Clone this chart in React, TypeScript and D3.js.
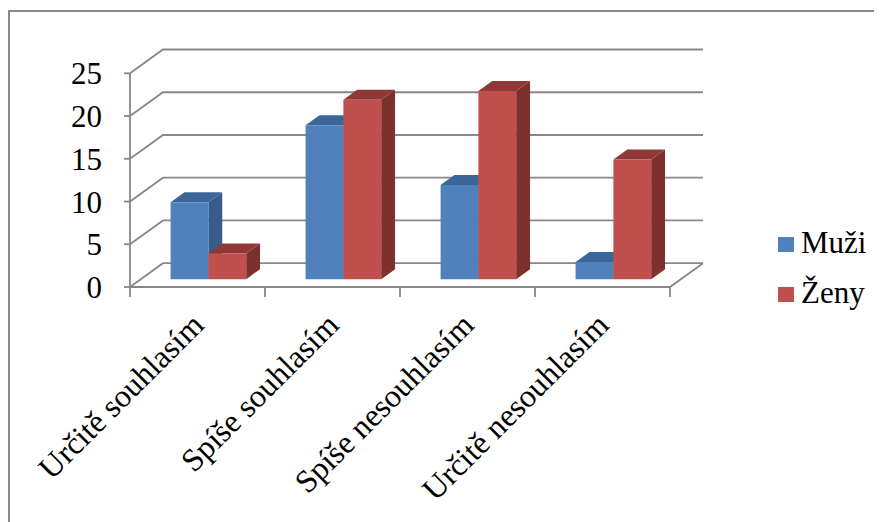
import React, { useEffect, useRef } from "react";
import * as d3 from "d3";

const categories = ["Určitě souhlasím", "Spíše souhlasím", "Spíše nesouhlasím", "Určitě nesouhlasím"];
const seriesNames = ["Muži", "Ženy"];
const muzi = [9, 18, 11, 2];
const zeny = [3, 21, 22, 14];
const yTicks = [0, 5, 10, 15, 20, 25];

const W = 882, H = 522;
const FONT = "'Liberation Serif', 'Times New Roman', Tinos, serif";

const x0 = 130, x1 = 670;
const yBase = 287;
const plotH = 213.7;
const DX = 33, DY = -23.8;
const d0 = 0.33, d1 = 0.75;
const gridColor = "#878787";

const faces = {
  front: ["#4F81BD", "#C0504D"],
  side: ["#385D8A", "#7D302E"],
  top: ["#3D6698", "#8F3836"],
};

export default function App() {
  const ref = useRef<SVGSVGElement | null>(null);

  useEffect(() => {
    const svg = d3.select(ref.current);
    svg.selectAll("*").remove();
    const root = svg.append("g").attr("transform", "translate(-8,-8)");

    const xBand = d3.scaleBand<string>().domain(categories).range([x0, x1]).paddingInner(0).paddingOuter(0);
    const yScale = d3.scaleLinear().domain([0, 25]).range([0, plotH]);
    const values = [muzi, zeny];
    const proj = (x: number, h: number, d: number): [number, number] => [x + d * DX, yBase - h + d * DY];
    const poly = (pts: [number, number][]) => pts.map((p) => p.join(",")).join(" ");

    root.append("rect").attr("x", 0).attr("y", 0).attr("width", W).attr("height", H).attr("fill", "#fff");
    root.append("polyline").attr("points", `9,${H + 5} 9,11 ${W + 5},11`).attr("fill", "none").attr("stroke", "#888").attr("stroke-width", 2);

    const grid = root.append("g").attr("fill", "none").attr("stroke", gridColor).attr("stroke-width", 1.8);
    yTicks.forEach((t) => {
      const h = yScale(t);
      grid.append("polyline").attr("points", poly([proj(x0, h, 0), proj(x0, h, 1), proj(x1, h, 1)]));
      grid.append("line").attr("x1", x0 - 6).attr("x2", x0).attr("y1", yBase - h).attr("y2", yBase - h);
    });
    grid.append("polyline").attr("points", poly([proj(x0, 0, 0), proj(x1, 0, 0), proj(x1, 0, 1)]));
    grid.append("line").attr("x1", x0).attr("x2", x0).attr("y1", yBase - yScale(25)).attr("y2", yBase);
    const catTicks = [...categories.map((c) => xBand(c) as number), x1];
    catTicks.forEach((x) => {
      grid.append("line").attr("x1", x).attr("x2", x).attr("y1", yBase).attr("y2", yBase + 10);
    });

    const barW = xBand.bandwidth() * 0.28;
    categories.forEach((c, i) => {
      const cx = (xBand(c) as number) + xBand.bandwidth() / 2;
      values.forEach((vals, s) => {
        const left = cx - barW + s * barW;
        const right = left + barW;
        const h = yScale(vals[i]);
        const g = root.append("g");
        g.append("polygon").attr("points", poly([proj(right, 0, d0), proj(right, 0, d1), proj(right, h, d1), proj(right, h, d0)])).attr("fill", faces.side[s]);
        g.append("polygon").attr("points", poly([proj(left, h, d0), proj(right, h, d0), proj(right, h, d1), proj(left, h, d1)])).attr("fill", faces.top[s]);
        g.append("polygon").attr("points", poly([proj(left, 0, d0), proj(right, 0, d0), proj(right, h, d0), proj(left, h, d0)])).attr("fill", faces.front[s]);
      });
    });

    const setFont = (sel: any, size: number) =>
      sel
        .attr("font-family", FONT)
        .attr("font-size", size)
        .style("font-family", FONT, "important")
        .style("font-size", `${size}px`, "important")
        .attr("fill", "#000");

    yTicks.forEach((t) => {
      const tx = root.append("text").attr("x", 102).attr("y", yBase - yScale(t) + 11).attr("text-anchor", "end").text(String(t));
      setFont(tx, 31);
    });
    categories.forEach((c) => {
      const cx = (xBand(c) as number) + xBand.bandwidth() / 2 + 8;
      const cy = 327;
      const tx = root.append("text").attr("x", cx).attr("y", cy).attr("text-anchor", "end").attr("transform", `rotate(-45 ${cx} ${cy})`).text(c);
      setFont(tx, 32);
    });
    seriesNames.forEach((n, s) => {
      root.append("rect").attr("x", 778).attr("y", 237 + s * 50).attr("width", 16).attr("height", 15).attr("fill", faces.front[s]);
      const tx = root.append("text").attr("x", 801).attr("y", 253 + s * 50).text(n);
      setFont(tx, 31);
    });
  }, []);

  return <svg ref={ref} width={W} height={H} overflow="visible" />;
}
